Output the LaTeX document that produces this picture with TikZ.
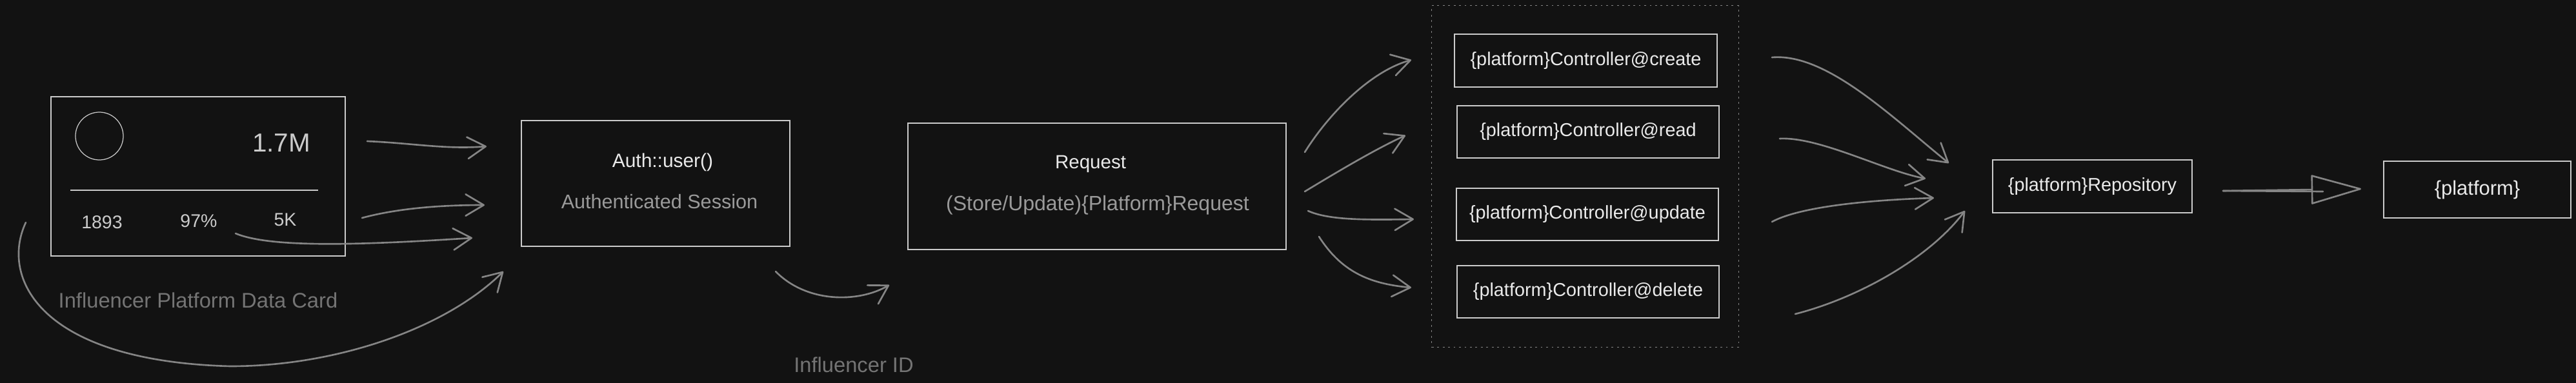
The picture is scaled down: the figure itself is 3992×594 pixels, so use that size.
\documentclass[tikz,border=0pt]{standalone}
\usepackage{fontspec}
\setmainfont{Liberation Sans}
\usetikzlibrary{arrows.meta}
\definecolor{bgc}{HTML}{121212}
\definecolor{strokec}{HTML}{CBCBCB}
\definecolor{txtc}{HTML}{EAEAEA}
\definecolor{subc}{HTML}{9A9A9A}
\definecolor{faintc}{HTML}{747474}
\definecolor{arrc}{HTML}{858585}
\begin{document}
\begin{tikzpicture}[x=0.01cm,y=-0.01cm,
  box/.style={draw=strokec,line width=0.55pt,inner sep=0pt},
  lbl/.style={text=txtc,inner sep=0pt,font=\fontsize{8.5}{10}\selectfont},
  sublbl/.style={text=subc,inner sep=0pt,font=\fontsize{8.9}{10}\selectfont},
  faintlbl/.style={text=faintc,inner sep=0pt,font=\fontsize{9.3}{11}\selectfont},
  ctrl/.style={box,minimum width=4.06cm,minimum height=0.81cm,text=txtc,font=\fontsize{8.2}{10}\selectfont},
  conn/.style={draw=arrc,line width=0.75pt,line cap=round,line join=round,-{Straight Barb[length=8pt,width=9.5pt,line cap=round,line join=round]}},
  group/.style={draw=arrc,line width=0.35pt,dash pattern=on 0.8pt off 1.6pt},
]
\useasboundingbox (0,0) rectangle (3992,594);
\fill[bgc] (0,0) rectangle (3992,594);

% ---- data card ----
\node[box,minimum width=4.56cm,minimum height=2.47cm] (card) at (307,273.5) {};
\node[draw=strokec,line width=0.35pt,circle,minimum size=0.74cm,inner sep=0pt] (avatar) at (154,211) {};
\coordinate (sepL) at (109,295);
\coordinate (sepR) at (493,295);
\draw[draw=strokec,line width=0.55pt] (sepL) -- (sepR);
\node[lbl,text=strokec,font=\fontsize{11.5}{13}\selectfont] (followers) at (436,222) {1.7M};
\node[lbl,text=strokec,font=\fontsize{8.1}{10}\selectfont] (posts) at (158,345) {1893};
\node[lbl,text=strokec,font=\fontsize{8.1}{10}\selectfont] (rate) at (308,343) {97\%};
\node[lbl,text=strokec,font=\fontsize{8.1}{10}\selectfont] (likes) at (442,341) {5K};
\node[faintlbl] (cardlbl) at (307,466) {Influencer Platform Data Card};

% ---- auth ----
\node[box,minimum width=4.16cm,minimum height=1.95cm] (auth) at (1016,284.5) {};
\node[lbl] (authtitle) at (1027,252) {Auth::user()};
\node[sublbl,font=\fontsize{8.7}{10}\selectfont] (authsub) at (1022,313) {Authenticated Session};
\node[faintlbl] (idlbl) at (1323,566) {Influencer ID};

% ---- request ----
\node[box,minimum width=5.86cm,minimum height=1.96cm] (req) at (1700,289) {};
\node[lbl,font=\fontsize{8.4}{10}\selectfont] (reqtitle) at (1690,254) {Request};
\node[sublbl,font=\fontsize{9.1}{11}\selectfont] (reqsub) at (1701,318) {(Store/Update)\{Platform\}Request};

% ---- controllers ----
\node[group,minimum width=4.75cm,minimum height=5.29cm,inner sep=0pt] (ctrlgroup) at (2456.5,273.5) {};
\node[ctrl,minimum width=4.07cm,minimum height=0.82cm] (create) at (2457.5,94) {\{platform\}Controller@create};
\node[ctrl] (read) at (2461,204.5) {\{platform\}Controller@read};
\node[ctrl] (update) at (2460,332.5) {\{platform\}Controller@update};
\node[ctrl] (delete) at (2461,452.5) {\{platform\}Controller@delete};

% ---- repository / model ----
\node[box,minimum width=3.09cm,minimum height=0.82cm,text=txtc,font=\fontsize{8.2}{10}\selectfont] (repo) at (3242.5,289) {\{platform\}Repository};
\node[box,minimum width=2.90cm,minimum height=0.88cm,text=txtc,font=\fontsize{8.8}{10}\selectfont] (model) at (3839,294) {\{platform\}};

% ---- connector end points ----
\coordinate (a1s) at (569,219);  \coordinate (a1e) at (754,227);
\coordinate (a2s) at (561,338);  \coordinate (a2e) at (751,318);
\coordinate (a3s) at (365,362);  \coordinate (a3e) at (732,369);
\coordinate (a4s) at (40,345);   \coordinate (a4m) at (357,568); \coordinate (a4e) at (780,421);
\coordinate (a5s) at (1202,421); \coordinate (a5e) at (1378,442);
\coordinate (b1s) at (2022,236); \coordinate (b1e) at (2187,93);
\coordinate (b2s) at (2022,297); \coordinate (b2e) at (2178,210);
\coordinate (b3s) at (2027,327); \coordinate (b3e) at (2191,340);
\coordinate (b4s) at (2044,367); \coordinate (b4e) at (2187,446);
\coordinate (c1s) at (2746,89);  \coordinate (c1e) at (3020,253);
\coordinate (c2s) at (2758,215); \coordinate (c2e) at (2984,277);
\coordinate (c3s) at (2746,344); \coordinate (c3e) at (2997,307);
\coordinate (c4s) at (2782,487); \coordinate (c4e) at (3045,327);
\coordinate (ds) at (3445,296);  \coordinate (dm) at (3600,297); \coordinate (de) at (3659,293);

% card -> auth
\draw[conn] (a1s) .. controls (640,222) and (690,232) .. (a1e);
\draw[conn] (a2s) .. controls (620,322) and (690,318) .. (a2e);
\draw[conn] (a3s) .. controls (420,385) and (560,380) .. (a3e);
\draw[conn] (a4s) .. controls (0,430) and (60,560) .. (a4m) .. controls (520,568) and (690,510) .. (a4e);
% auth -> request
\draw[conn] (a5s) .. controls (1250,470) and (1330,470) .. (a5e);
% request -> controllers
\draw[conn] (b1s) .. controls (2060,175) and (2125,110) .. (b1e);
\draw[conn] (b2s) .. controls (2070,268) and (2130,232) .. (b2e);
\draw[conn] (b3s) .. controls (2060,342) and (2120,341) .. (b3e);
\draw[conn] (b4s) .. controls (2078,420) and (2120,440) .. (b4e);
% controllers -> repository
\draw[conn] (c1s) .. controls (2830,82) and (2930,180) .. (c1e);
\draw[conn] (c2s) .. controls (2820,212) and (2920,265) .. (c2e);
\draw[conn] (c3s) .. controls (2790,320) and (2900,310) .. (c3e);
\draw[conn] (c4s) .. controls (2880,462) and (2990,400) .. (c4e);
% repository -> model
\draw[draw=arrc,line width=0.75pt,line cap=round] (ds) -- (dm);
\draw[draw=arrc,line width=0.75pt,line cap=round,-{Triangle[open,length=23pt,width=13pt,line join=round]}] (ds) -- (de);
\end{tikzpicture}
\end{document}
